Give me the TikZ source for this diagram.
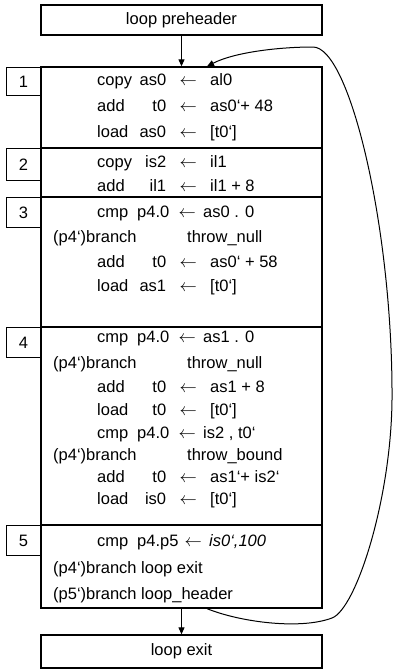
\documentclass[tikz,border=0pt]{standalone}
\usepackage{fontspec}
\setmainfont{Liberation Sans}
\usetikzlibrary{arrows.meta}

% one statement: opcode, destination, arrow, source
\newcommand{\insn}[3]{\makebox[38pt][l]{#1}\makebox[31pt][r]{#2}\makebox[44pt][c]{$\leftarrow$}#3}
% compare: destination set flush left, tighter arrow
\newcommand{\cmpn}[3]{\makebox[40pt][l]{cmp}\makebox[#1][l]{#2}\makebox[32pt][c]{$\leftarrow$}#3}
% guarded branch: predicate part, target
\newcommand{\brn}[2]{\makebox[134pt][l]{#1}#2}

\begin{document}
\begin{tikzpicture}[x=1pt,y=-1pt]
        \tikzstyle{every node}+=[inner sep=0pt, font=\fontsize{16.5}{20}\selectfont]
        \tikzstyle{blk}=[draw, line width=1.3pt, minimum width=281pt]
        \tikzstyle{num}=[draw, line width=1.1pt, minimum width=34pt, anchor=north east]
        \tikzstyle{ln}=[anchor=west, text height=12pt, text depth=3pt]
        \tikzstyle{flow}=[line width=1pt, -{Triangle[length=7pt,width=6pt]}]
        \useasboundingbox (0,0) rectangle (394,670);
        % blocks
        \node [blk, minimum height=30pt] (pre) at (181.5,20) {loop preheader};
        \node [blk, minimum height=541pt] (body) at (181.5,337.5) {};
        \node [blk, minimum height=33pt] (exit) at (181.5,651.5) {loop exit};
        \draw [line width=1.1pt] (41,148) -- (322,148);
        \draw [line width=1.1pt] (41,197) -- (322,197);
        \draw [line width=1.1pt] (41,327) -- (322,327);
        \draw [line width=1.1pt] (41,525) -- (322,525);
        \node [num, minimum height=28pt] (lab1) at (41,67) {1};
        \node [num, minimum height=32pt] (lab2) at (41,148) {2};
        \node [num, minimum height=30pt] (lab3) at (41,197) {3};
        \node [num, minimum height=30pt] (lab4) at (41,327) {4};
        \node [num, minimum height=30pt] (lab5) at (41,525) {5};
        % 1
        \node [ln] (c1a) at (97,81) {\insn{copy}{as0}{al0}};
        \node [ln] (c1b) at (97,107) {\insn{add}{t0}{as0`+ 48}};
        \node [ln] (c1c) at (97,133) {\insn{load}{as0}{[t0`]}};
        % 2
        \node [ln] (c2a) at (97,163) {\insn{copy}{is2}{il1}};
        \node [ln] (c2b) at (97,187) {\insn{add}{il1}{il1 + 8}};
        % 3
        \node [ln] (c3a) at (97,213) {\cmpn{34pt}{p4.0}{as0 . 0}};
        \node [ln] (c3b) at (53,238) {\brn{(p4`)branch}{throw\_null}};
        \node [ln] (c3c) at (97,263) {\insn{add}{t0}{as0` + 58}};
        \node [ln] (c3d) at (97,287) {\insn{load}{as1}{[t0`]}};
        % 4
        \node [ln] (c4a) at (97,338) {\cmpn{34pt}{p4.0}{as1 . 0}};
        \node [ln] (c4b) at (53,364) {\brn{(p4`)branch}{throw\_null}};
        \node [ln] (c4c) at (97,388) {\insn{add}{t0}{as1 + 8}};
        \node [ln] (c4d) at (97,411) {\insn{load}{t0}{[t0`]}};
        \node [ln] (c4e) at (97,434) {\cmpn{34pt}{p4.0}{is2 , t0`}};
        \node [ln] (c4f) at (53,456) {\brn{(p4`)branch}{throw\_bound}};
        \node [ln] (c4g) at (97,478) {\insn{add}{t0}{as1`+ is2`}};
        \node [ln] (c4h) at (97,500) {\insn{load}{is0}{[t0`]}};
        % 5
        \node [ln] (c5a) at (97,542) {\cmpn{40pt}{p4.p5}{\textit{is0`,100}}};
        \node [ln] (c5b) at (53,569) {(p4`)branch loop exit};
        \node [ln] (c5c) at (53,595) {(p5`)branch loop\_header};
        % edges
        \draw [flow] (pre) -- (body);
        \draw [flow] (body) -- (exit);
        \coordinate (back) at (207,0);
        \draw [flow] (body.south -| back) .. controls (240,622) and (300,630) .. (332,618)
                .. controls (356,609) and (391,500) .. (392,400)
                .. controls (393,230) and (350,47) .. (313,47)
                .. controls (280,47) and (235,52) .. (body.north -| back);
\end{tikzpicture}
\end{document}
